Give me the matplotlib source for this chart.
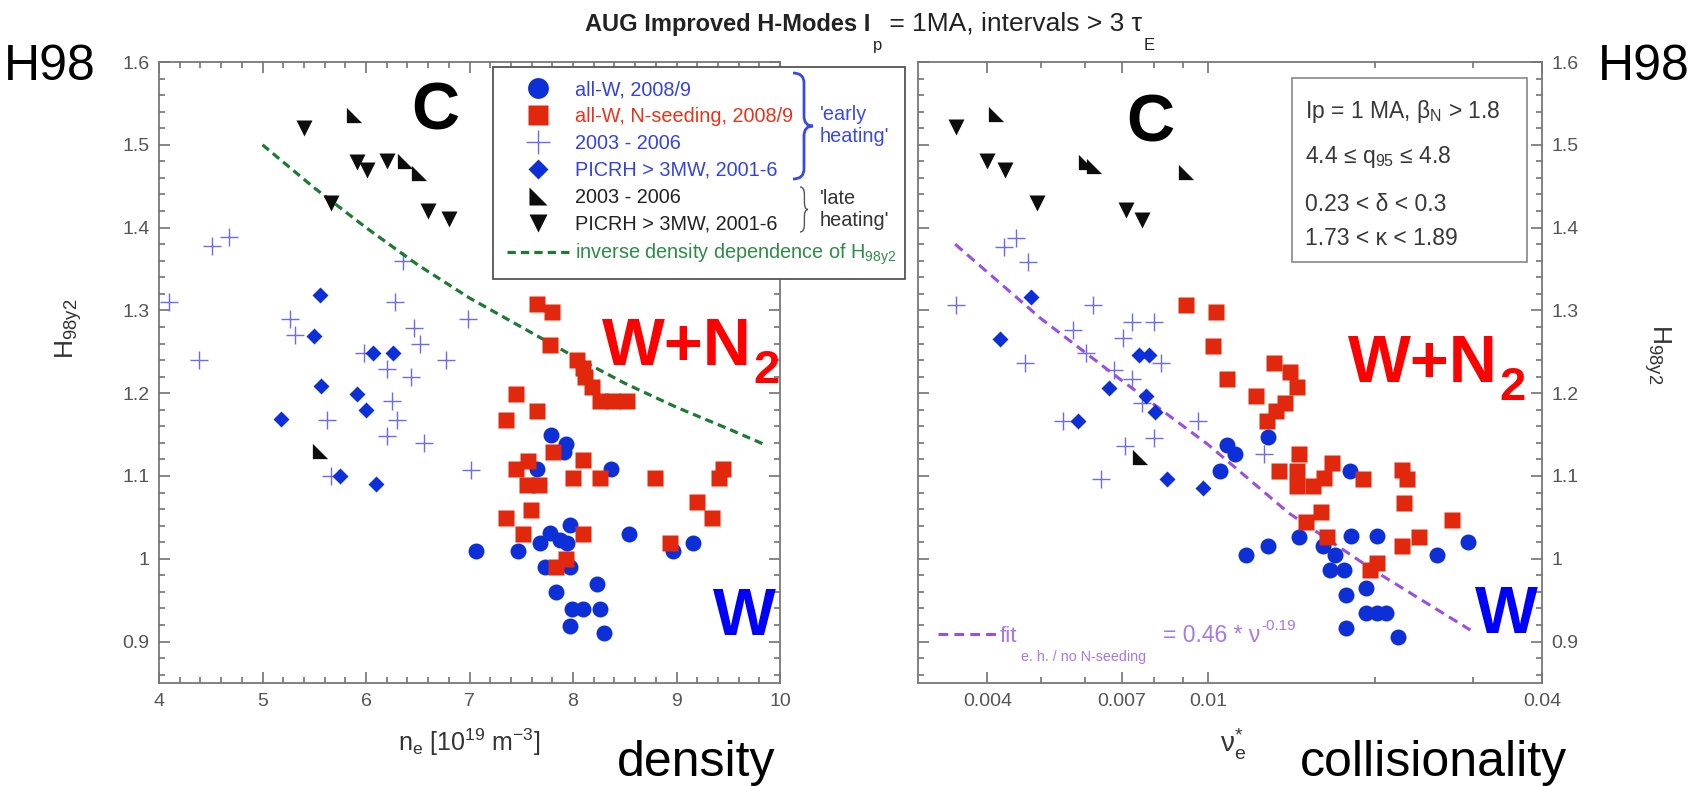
import numpy as np
import matplotlib
matplotlib.use("Agg")
import matplotlib.pyplot as plt
from matplotlib.path import Path
from matplotlib.patches import PathPatch, Rectangle
from matplotlib.lines import Line2D
from matplotlib.ticker import FixedLocator, MultipleLocator, NullFormatter, FuncFormatter

plt.rcParams['font.family'] = ['Liberation Sans', 'DejaVu Sans']
plt.rcParams['mathtext.fontset'] = 'custom'
plt.rcParams['mathtext.rm'] = 'Liberation Sans'
plt.rcParams['mathtext.it'] = 'Liberation Sans:italic'
plt.rcParams['mathtext.bf'] = 'Liberation Sans:bold'

# ---- left panel: H98y2 vs density n_e [1e19 m^-3] ----
ne_w = [7.79, 7.93, 7.91, 7.65, 8.37, 7.97, 7.78, 7.87, 7.68, 7.94, 8.54, 9.16,
        8.97, 7.06, 7.47, 7.73, 7.97, 8.23, 7.84, 7.99, 8.10, 8.26, 7.97, 8.30]
h_w = [1.149, 1.139, 1.129, 1.109, 1.109, 1.041, 1.031, 1.023, 1.019, 1.019, 1.030, 1.019,
       1.009, 1.009, 1.009, 0.990, 0.990, 0.970, 0.960, 0.939, 0.939, 0.939, 0.919, 0.910]

ne_wn = [7.65, 7.80, 7.78, 8.04, 8.10, 8.12, 8.18, 8.26, 8.39, 8.52, 7.45, 7.65, 7.35,
         7.81, 7.57, 7.45, 7.56, 7.67, 8.10, 8.00, 8.26, 8.79, 9.45, 9.41, 9.20, 9.34,
         7.59, 7.35, 7.52, 8.10, 8.94, 7.93, 7.84]
h_wn = [1.308, 1.298, 1.258, 1.240, 1.230, 1.220, 1.208, 1.190, 1.190, 1.190, 1.199, 1.179, 1.168,
        1.129, 1.118, 1.108, 1.089, 1.089, 1.119, 1.098, 1.098, 1.098, 1.108, 1.098, 1.069, 1.049,
        1.059, 1.049, 1.030, 1.030, 1.019, 1.000, 0.990]

ne_p = [4.10, 4.51, 4.68, 4.39, 5.27, 5.31, 6.36, 6.28, 6.99, 6.46, 6.52, 5.98, 6.20,
        6.43, 6.77, 6.25, 6.30, 5.62, 6.20, 6.56, 7.01, 5.66]
h_p = [1.310, 1.378, 1.389, 1.240, 1.290, 1.270, 1.360, 1.310, 1.290, 1.279, 1.260, 1.249, 1.229,
       1.219, 1.240, 1.190, 1.168, 1.168, 1.148, 1.140, 1.107, 1.100]

ne_d = [5.56, 5.50, 5.57, 5.18, 6.07, 6.26, 5.91, 6.00, 5.75, 6.10]
h_d = [1.318, 1.269, 1.209, 1.169, 1.249, 1.249, 1.199, 1.180, 1.100, 1.090]

ne_late = [5.88, 6.38, 6.51, 5.56]
h_late = [1.536, 1.480, 1.466, 1.130]

ne_down = [5.40, 5.91, 6.01, 6.20, 5.66, 6.60, 6.80]
h_down = [1.520, 1.479, 1.469, 1.480, 1.430, 1.420, 1.410]

ne_curve = [5.0, 5.5, 6.0, 6.5, 7.0, 7.5, 8.0, 8.5, 9.0, 9.5, 9.85]
h_curve = [1.500, 1.448, 1.400, 1.355, 1.315, 1.280, 1.245, 1.212, 1.183, 1.157, 1.138]

# ---- right panel: H98y2 vs collisionality nu*_e ----
nu_w = [0.01285, 0.0108, 0.0112, 0.0105, 0.0180, 0.0117, 0.01285, 0.01456, 0.0161, 0.01695,
        0.0166, 0.0176, 0.0181, 0.0202, 0.0193, 0.0177, 0.0193, 0.0202, 0.0209, 0.0177,
        0.0220, 0.0259, 0.0294]
hr_w = [1.147, 1.137, 1.127, 1.106, 1.106, 1.005, 1.015, 1.026, 1.015, 1.005,
        0.986, 0.986, 1.027, 1.027, 0.965, 0.956, 0.935, 0.935, 0.935, 0.916,
        0.906, 1.005, 1.020]

nu_wn = [0.00912, 0.01032, 0.0102, 0.01083, 0.0122, 0.01315, 0.01403, 0.01445, 0.01374, 0.01325,
         0.01277, 0.01456, 0.01343, 0.01445, 0.01445, 0.01543, 0.0167, 0.0162, 0.0190, 0.0224,
         0.0228, 0.0226, 0.0150, 0.0160, 0.0164, 0.0196, 0.0202, 0.0224, 0.0240, 0.0275]
hr_wn = [1.306, 1.298, 1.257, 1.217, 1.197, 1.237, 1.226, 1.207, 1.188, 1.179,
         1.167, 1.126, 1.106, 1.106, 1.088, 1.088, 1.116, 1.098, 1.096, 1.107,
         1.096, 1.067, 1.044, 1.056, 1.026, 0.986, 0.995, 1.015, 1.026, 1.047]

nu_p = [0.00351, 0.00428, 0.0045, 0.00473, 0.00468, 0.0062, 0.00572, 0.00603, 0.00677, 0.00728,
        0.00702, 0.0073, 0.0080, 0.00824, 0.0076, 0.00547, 0.0096, 0.0080, 0.00709, 0.00642,
        0.0126]
hr_p = [1.307, 1.377, 1.388, 1.358, 1.236, 1.307, 1.276, 1.249, 1.228, 1.217,
        1.267, 1.286, 1.286, 1.236, 1.188, 1.167, 1.167, 1.146, 1.136, 1.096,
        1.126]

nu_d = [0.0048, 0.00421, 0.00751, 0.00783, 0.00662, 0.00773, 0.00802, 0.00583, 0.00844, 0.00981]
hr_d = [1.316, 1.266, 1.246, 1.246, 1.206, 1.197, 1.177, 1.166, 1.096, 1.086]

nu_late = [0.00415, 0.00603, 0.00624, 0.00912, 0.00755]
hr_late = [1.537, 1.479, 1.474, 1.467, 1.123]

nu_down = [0.00351, 0.0040, 0.00431, 0.00491, 0.00711, 0.00760]
hr_down = [1.521, 1.480, 1.470, 1.430, 1.421, 1.409]

nu_fit = [0.0035, 0.005, 0.007, 0.010, 0.014, 0.020, 0.0297]
h_fit = [1.380, 1.290, 1.215, 1.138, 1.055, 0.985, 0.914]

y_ticks = [0.9, 1.0, 1.1, 1.2, 1.3, 1.4, 1.5, 1.6]
nu_major = [0.004, 0.007, 0.01, 0.04]
nu_minor = [0.005, 0.006, 0.008, 0.009, 0.02, 0.03]

BLUE = '#0c2fd8'
RED = '#e2280c'
PLUS = '#6a6af2'
BLACK = '#0d0d0d'
GREEN = '#1c7a35'
PURPLE = '#9a4fe3'
FITTXT = '#a678e8'
TRI_L = [(-1, 1), (-1, -1), (1, -1), (-1, 1)]   # right-angle triangle marker

W, H = 1697, 786
fig = plt.figure(figsize=(W / 100, H / 100), dpi=100)


def px_box(x0, y0, x1, y1):
    return [x0 / W, 1 - y1 / H, (x1 - x0) / W, (y1 - y0) / H]


ax1 = fig.add_axes(px_box(159, 62, 780, 683))
ax2 = fig.add_axes(px_box(918, 62, 1542, 683))


def draw_set(ax, w, wn, p, d, late, down):
    ax.plot(*p, ls='none', marker='+', ms=13, mew=1.0, color=PLUS, zorder=2)
    ax.plot(*d, ls='none', marker='D', ms=8, color=BLUE, mec='none', zorder=3)
    ax.plot(*late, ls='none', marker=TRI_L, ms=11, color=BLACK, mec='none', zorder=3)
    ax.plot(*down, ls='none', marker='v', ms=11, color=BLACK, mec='none', zorder=3)
    ax.plot(*w, ls='none', marker='o', ms=11.5, color=BLUE, mec='none', zorder=3)
    ax.plot(*wn, ls='none', marker='s', ms=12, color=RED, mec='none', zorder=4)


draw_set(ax1, (ne_w, h_w), (ne_wn, h_wn), (ne_p, h_p), (ne_d, h_d),
         (ne_late, h_late), (ne_down, h_down))
ax1.plot(ne_curve, h_curve, ls=(0, (2.6, 1.6)), lw=2.3, color=GREEN, zorder=2)

draw_set(ax2, (nu_w, hr_w), (nu_wn, hr_wn), (nu_p, hr_p), (nu_d, hr_d),
         (nu_late, hr_late), (nu_down, hr_down))
ax2.plot(nu_fit, h_fit, ls=(0, (3.2, 2.0)), lw=2.2, color=PURPLE, zorder=2)

fmt = FuncFormatter(lambda v, p: f"{v:g}")

ax1.set_xlim(4, 10)
ax1.xaxis.set_major_locator(MultipleLocator(1))
ax1.xaxis.set_minor_locator(MultipleLocator(0.2))

ax2.set_xscale('log')
ax2.set_xlim(0.003, 0.04)
ax2.xaxis.set_major_locator(FixedLocator(nu_major))
ax2.xaxis.set_major_formatter(fmt)
ax2.xaxis.set_minor_locator(FixedLocator(nu_minor))
ax2.xaxis.set_minor_formatter(NullFormatter())

for ax in (ax1, ax2):
    ax.set_ylim(0.85, 1.6)
    ax.yaxis.set_major_locator(FixedLocator(y_ticks))
    ax.yaxis.set_major_formatter(fmt)
    ax.yaxis.set_minor_locator(MultipleLocator(0.02))
    ax.tick_params(which='both', direction='in', top=True, right=True,
                   color='#666', labelcolor='#555', labelsize=14, width=1.1)
    ax.tick_params(which='major', length=8, pad=7)
    ax.tick_params(which='minor', length=4)
    for s in ax.spines.values():
        s.set_color('#777')
        s.set_linewidth(1.3)

ax2.tick_params(which='both', labelleft=False, labelright=True)

ax1.set_ylabel(r'H$_{\mathrm{98y2}}$', fontsize=19, color='#333')
ax1.yaxis.set_label_coords(-0.12, 0.57)
ax2.yaxis.set_label_position('right')
ax2.set_ylabel(r'H$_{\mathrm{98y2}}$', fontsize=19, color='#333', rotation=270, va='bottom')
ax2.yaxis.set_label_coords(1.16, 0.53)

ax1.set_xlabel(r'n$_{\mathrm{e}}$ [10$^{\mathrm{19}}$ m$^{\mathrm{-3}}$]', fontsize=18, color='#333')
ax1.xaxis.set_label_coords(0.5, -0.07)
ax2.set_xlabel(r'ν$^{*}_{\mathrm{e}}$', fontsize=20, color='#333')
ax2.xaxis.set_label_coords(0.505, -0.07)

# ---- overlay in pixel coordinates for annotations ----
lax = fig.add_axes([0, 0, 1, 1], zorder=5)
lax.set_xlim(0, W)
lax.set_ylim(H, 0)
lax.axis('off')


def brace(ax, x_end, x_tip, y0, y1, **kw):
    xm = x_end + 0.55 * (x_tip - x_end)
    ym = 0.5 * (y0 + y1)
    r = min(10, (y1 - y0) / 6)
    verts = [(x_end, y0), (xm, y0), (xm, y0 + r),
             (xm, ym - r), (xm, ym), (x_tip, ym),
             (xm, ym), (xm, ym + r),
             (xm, y1 - r), (xm, y1), (x_end, y1)]
    codes = [Path.MOVETO, Path.CURVE3, Path.CURVE3,
             Path.LINETO, Path.CURVE3, Path.CURVE3,
             Path.CURVE3, Path.CURVE3,
             Path.LINETO, Path.CURVE3, Path.CURVE3]
    ax.add_patch(PathPatch(Path(verts, codes), fill=False, **kw))


# legend box
lax.add_patch(Rectangle((493, 67), 412, 212, fc='white', ec='#555', lw=1.3, zorder=1))
handles = [
    Line2D([], [], ls='none', marker='o', ms=15, color=BLUE, mec='none'),
    Line2D([], [], ls='none', marker='s', ms=14, color=RED, mec='none'),
    Line2D([], [], ls='none', marker='+', ms=17, mew=1.0, color=PLUS),
    Line2D([], [], ls='none', marker='D', ms=10.5, color=BLUE, mec='none'),
    Line2D([], [], ls='none', marker=TRI_L, ms=13, color=BLACK, mec='none'),
    Line2D([], [], ls='none', marker='v', ms=13, color=BLACK, mec='none'),
    Line2D([], [], ls=(0, (2.6, 1.6)), lw=2.3, color=GREEN),
]
labels = ['all-W, 2008/9', 'all-W, N-seeding, 2008/9', '2003 - 2006', 'PICRH > 3MW, 2001-6',
          '2003 - 2006', 'PICRH > 3MW, 2001-6', r'inverse density dependence of H$_{\mathrm{98y2}}$']
leg = lax.legend(handles, labels, loc='upper left', bbox_to_anchor=(507 / W, 1 - 80 / H),
                 bbox_transform=fig.transFigure, frameon=False, fontsize=14.3,
                 handlelength=3.1, handletextpad=0.3, labelspacing=0.4,
                 borderpad=0, borderaxespad=0,
                 labelcolor=['#3442e0', '#e8331a', '#3442e0', '#3442e0', '#222', '#222', '#2e8b46'])
leg.set_zorder(3)

brace(lax, 793, 813, 73, 179, color='#3a4ae0', lw=2.0, zorder=3)
brace(lax, 800, 808, 187, 232, color='#555', lw=1.0, zorder=3)
lax.text(820, 125, "'early\nheating'", fontsize=14.3, color='#3a4ae0', va='center',
         linespacing=1.2, zorder=3)
lax.text(820, 209, "'late\nheating'", fontsize=14.3, color='#333', va='center',
         linespacing=1.2, zorder=3)

# parameter box on the right panel
lax.add_patch(Rectangle((1292, 78), 235, 184, fc='white', ec='#888', lw=1.2, zorder=1))
info = [r'Ip = 1 MA, β$_{\mathrm{N}}$ > 1.8', r'4.4 ≤ q$_{\mathrm{95}}$ ≤ 4.8',
        '0.23 < δ < 0.3', '1.73 < κ < 1.89']
for txt, yb in zip(info, [118, 163, 211, 245]):
    lax.text(1305, yb, txt, fontsize=16.5, color='#383838', va='baseline', zorder=3)

# fit label
lax.plot([938, 997], [634, 634], ls=(0, (3.2, 2.0)), lw=2.2, color=PURPLE)
lax.text(1000, 642, 'fit', fontsize=16, color=FITTXT, va='baseline')
lax.text(1021, 661, 'e. h. / no N-seeding', fontsize=10.3, color=FITTXT, va='baseline')
t_eq = lax.text(1163, 642, '= 0.46 * ν', fontsize=16.5, color=FITTXT, va='baseline')
lax.annotate('-0.19', xy=(1, 630), xycoords=(t_eq, 'data'), xytext=(1, 0),
             textcoords='offset points', fontsize=11, color=FITTXT, va='baseline')

# title
t1 = lax.text(585, 31, 'AUG Improved H-Modes I', fontsize=17, fontweight='bold', color='#222',
              va='baseline')
t2 = lax.annotate('p', xy=(1, 50), xycoords=(t1, 'data'), xytext=(2, 0),
                  textcoords='offset points', fontsize=12, color='#222', va='baseline')
t3 = lax.annotate(' = 1MA, intervals > 3 τ', xy=(1, 31), xycoords=(t2, 'data'),
                  fontsize=19, color='#222', va='baseline')
lax.annotate('E', xy=(1, 50), xycoords=(t3, 'data'), xytext=(1, 0),
             textcoords='offset points', fontsize=12, color='#222', va='baseline')

# big annotations
lax.text(4, 80, 'H98', fontsize=36, color='black', va='baseline')
lax.text(1598, 80, 'H98', fontsize=36, color='black', va='baseline')
lax.text(617, 776, 'density', fontsize=36, color='black', va='baseline')
lax.text(1300, 776, 'collisionality', fontsize=36, color='black', va='baseline')

lax.text(411, 130, 'C', fontsize=48, fontweight='bold', color='black', va='baseline')
lax.text(1126, 142, 'C', fontsize=48, fontweight='bold', color='black', va='baseline')
for xb, yb in [(602, 365), (1348, 382)]:
    t = lax.text(xb, yb, 'W+N', fontsize=48, fontweight='bold', color='#ff0000', va='baseline')
    lax.annotate('2', xy=(1, yb + 18), xycoords=(t, 'data'), xytext=(1, 0),
                 textcoords='offset points', fontsize=34, fontweight='bold',
                 color='#ff0000', va='baseline')
lax.text(713, 635, 'W', fontsize=48, fontweight='bold', color='#0000ff', va='baseline')
lax.text(1475, 633, 'W', fontsize=48, fontweight='bold', color='#0000ff', va='baseline')

fig.savefig('out.png', dpi=100)
